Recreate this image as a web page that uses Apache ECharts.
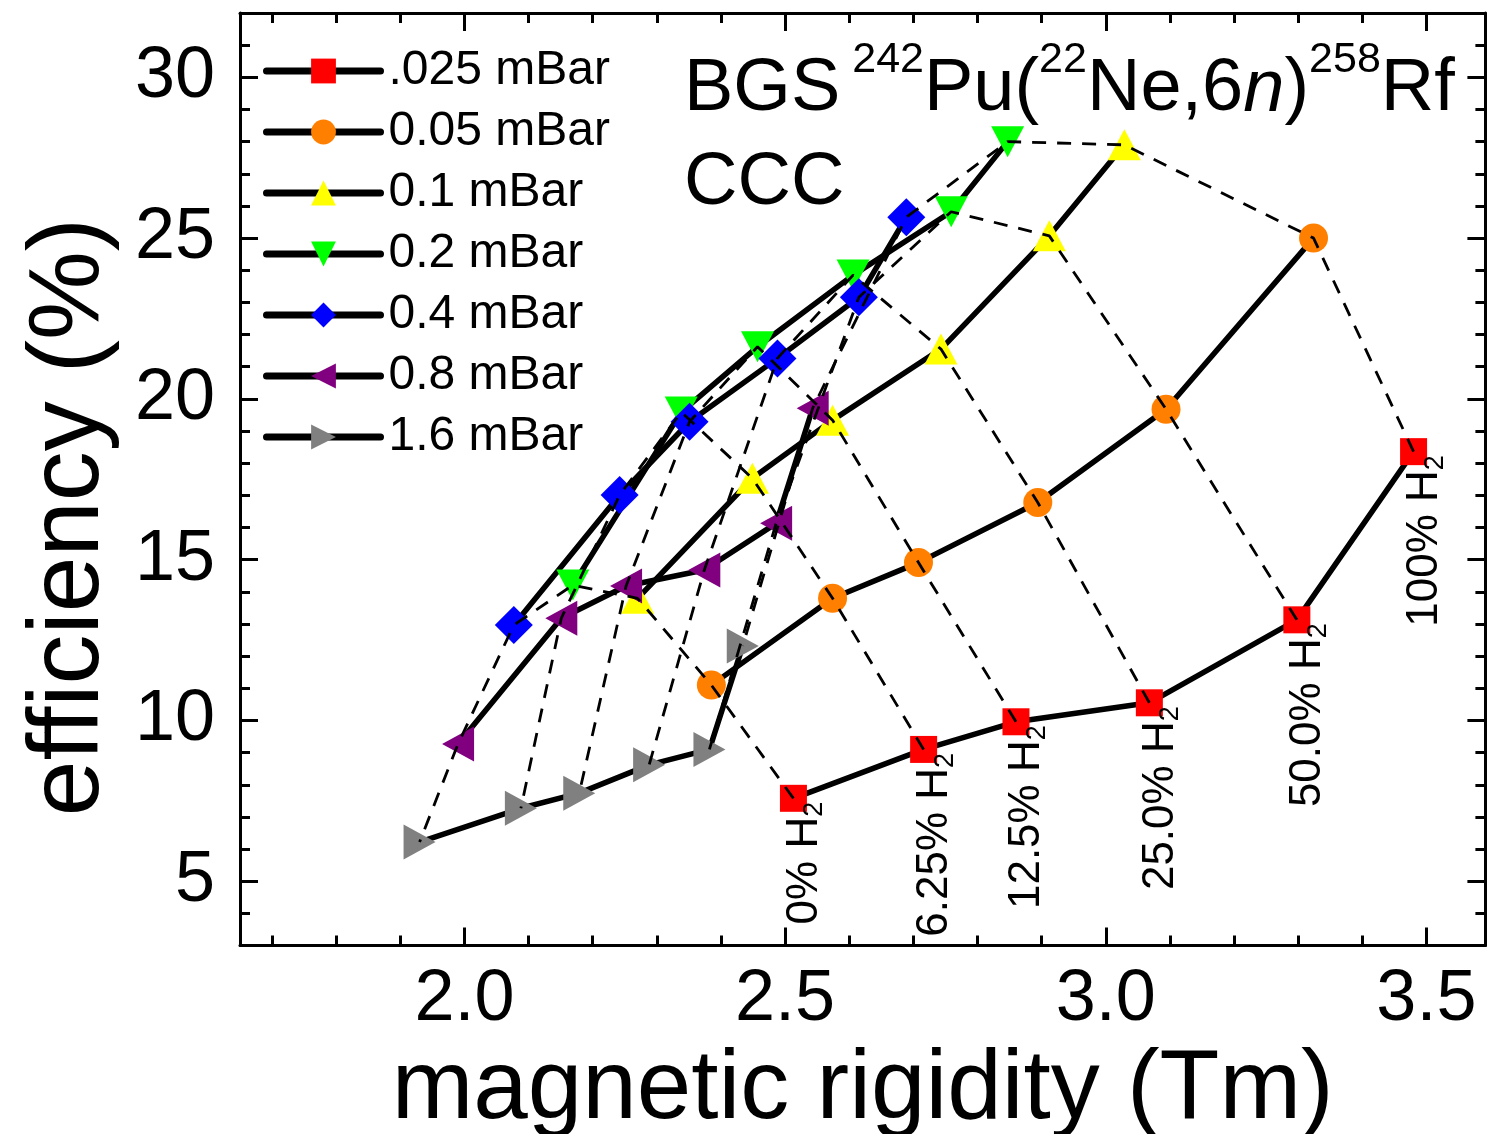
<!DOCTYPE html>
<html><head><meta charset="utf-8">
<script src="https://cdn.jsdelivr.net/npm/echarts@6/dist/echarts.min.js"></script>
<style>html,body{margin:0;padding:0;background:#fff}#c{width:1489px;height:1134px}</style>
</head><body><div id="c"></div>
<script>
// ---- data ----
const pressureNames = ['.025 mBar', '0.05 mBar', '0.1 mBar', '0.2 mBar', '0.4 mBar', '0.8 mBar', '1.6 mBar'];
const hydrogenFractions = ['0%', '6.25%', '12.5%', '25.0%', '50.0%', '100%'];

const rigidity025 = [2.513, 2.716, 2.860, 3.068, 3.298, 3.480];
const efficiency025 = [7.58, 9.10, 9.96, 10.55, 13.13, 18.36];
const rigidity05 = [2.385, 2.574, 2.708, 2.894, 3.094, 3.324];
const efficiency05 = [11.10, 13.80, 14.91, 16.78, 19.68, 25.00];
const rigidity1 = [2.270, 2.449, 2.574, 2.743, 2.912, 3.029];
const efficiency1 = [13.80, 17.53, 19.34, 21.55, 25.07, 27.90];
const rigidity2 = [2.169, 2.338, 2.457, 2.606, 2.759, 2.847];
const efficiency2 = [14.21, 19.59, 21.62, 23.85, 25.82, 28.00];
const rigidity4 = [2.077, 2.242, 2.351, 2.488, 2.615, 2.689];
const efficiency4 = [12.97, 17.01, 19.29, 21.26, 23.16, 25.65];
const rigidity8 = [1.990, 2.151, 2.252, 2.374, 2.486, 2.543];
const efficiency8 = [9.27, 13.18, 14.18, 14.68, 16.13, 19.71];
const rigidity16 = [1.930, 2.088, 2.179, 2.288, 2.382, 2.434];
const efficiency16 = [6.22, 7.27, 7.74, 8.62, 9.10, 12.32];

const xMajorTicks = [2.0, 2.5, 3.0, 3.5];
const xMinorTicks = [1.7, 1.8, 1.9, 2.1, 2.2, 2.3, 2.4, 2.6, 2.7, 2.8, 2.9, 3.1, 3.2, 3.3, 3.4];
const yMajorTicks = [5, 10, 15, 20, 25, 30];
const yMinorTicks = [4, 6, 7, 8, 9, 11, 12, 13, 14, 16, 17, 18, 19, 21, 22, 23, 24, 26, 27, 28, 29, 31];

// ---- styling ----
const FONT = '"Liberation Sans", Arial, sans-serif';
const rigidities = [rigidity025, rigidity05, rigidity1, rigidity2, rigidity4, rigidity8, rigidity16];
const efficiencies = [efficiency025, efficiency05, efficiency1, efficiency2, efficiency4, efficiency8, efficiency16];
const colors = ['#ff0000', '#ff8000', '#ffff00', '#00ff00', '#0000ff', '#800080', '#808080'];
const symbols = ['rect', 'circle', 'triangle', 'triangle', 'diamond', 'triangle', 'triangle'];
const rotations = [0, 0, 0, 180, 0, 90, -90];
const sizes = [[27, 27], [29, 29], [33, 31], [33, 31], [38, 38], [35, 32], [35, 32]];

const X_MIN = 1.65, X_MAX = 3.592, Y_MIN = 3, Y_MAX = 32;

function axis(dim, position, ticks, len, major) {
  const isX = dim === 'x';
  return {
    type: 'value', position: position,
    min: isX ? X_MIN : Y_MIN, max: isX ? X_MAX : Y_MAX,
    axisLine: { show: major, onZero: false, lineStyle: { color: '#000', width: 3 } },
    splitLine: { show: false },
    axisTick: { show: true, inside: true, length: len, customValues: ticks, lineStyle: { color: '#000', width: 3 } },
    axisLabel: major && (position === 'bottom' || position === 'left') ? {
      show: true, customValues: ticks, fontFamily: FONT, fontSize: 72, color: '#000',
      margin: isX ? 19 : 25,
      padding: isX ? 0 : [0, 0, 10, 0],
      formatter: v => isX ? v.toFixed(1) : String(v)
    } : { show: false },
    name: '',
    z: 4
  };
}

const xAxes = [
  Object.assign(axis('x', 'bottom', xMajorTicks, 18, true), {
    name: 'magnetic rigidity (Tm)', nameLocation: 'middle', nameGap: 86,
    nameTextStyle: { fontFamily: FONT, fontSize: 98, color: '#000' }
  }),
  axis('x', 'bottom', xMinorTicks, 10, false),
  axis('x', 'top', xMajorTicks, 18, true),
  axis('x', 'top', xMinorTicks, 10, false)
];
const yAxes = [
  axis('y', 'left', yMajorTicks, 18, true),
  axis('y', 'left', yMinorTicks, 10, false),
  axis('y', 'right', yMajorTicks, 18, true),
  axis('y', 'right', yMinorTicks, 10, false)
];

const series = [];
pressureNames.forEach((name, k) => {
  const s = {
    name: name, type: 'line', xAxisIndex: 0, yAxisIndex: 0,
    data: rigidities[k].map((x, i) => [x, efficiencies[k][i]]),
    symbol: symbols[k], symbolSize: sizes[k], symbolRotate: rotations[k],
    showAllSymbol: true,
    lineStyle: { color: '#000', width: 5.5 },
    itemStyle: { color: colors[k], borderWidth: 0 },
    emphasis: { disabled: true },
    z: 2
  };
  if (k === 0) {
    s.label = {
      show: true, position: 'bottom', rotate: 90, align: 'right', verticalAlign: 'middle',
      distance: -10, offset: [0, 12],
      formatter: p => '{m|' + hydrogenFractions[p.dataIndex] + ' H}{s|2}',
      rich: {
        m: { fontFamily: FONT, fontSize: 44, lineHeight: 46, color: '#000', verticalAlign: 'top' },
        s: { fontFamily: FONT, fontSize: 27, lineHeight: 27, color: '#000', verticalAlign: 'bottom', padding: [33, 0, 0, 0] }
      }
    };
  }
  series.push(s);
});
// dashed iso-H2 lines connect the same H2 fraction across pressures
hydrogenFractions.forEach((h, i) => {
  series.push({
    name: h + ' H2', type: 'line', xAxisIndex: 0, yAxisIndex: 0,
    data: rigidities.map((r, k) => [r[i], efficiencies[k][i]]),
    symbol: 'none', silent: true,
    lineStyle: { color: '#000', width: 2.8, type: [14, 11] },
    emphasis: { disabled: true },
    z: 3
  });
});

const option = {
  animation: false,
  backgroundColor: '#fff',
  grid: { left: 240, right: 3.6, top: 13, bottom: 188.4, containLabel: false, outerBoundsMode: 'none' },
  xAxis: xAxes,
  yAxis: yAxes,
  legend: {
    data: pressureNames, orient: 'vertical', left: 263, top: 46, padding: 0,
    itemWidth: 114, itemHeight: 31, itemGap: 11, selectedMode: false,
    lineStyle: { width: 7, cap: 'round', color: '#000' },
    textStyle: { fontFamily: FONT, fontSize: 48, lineHeight: 50, color: '#000', padding: [0, 0, 0, 3] }
  },
  graphic: [
    {
      type: 'text', left: 684, top: 39, z: 10,
      style: {
        text: '{n|BGS}{p| 242}{n|Pu(}{p|22}{n|Ne,6}{i|n}{n|)}{p|258}{n|Rf}',
        fill: '#000',
        rich: {
          n: { fontFamily: FONT, fontSize: 74, lineHeight: 88, verticalAlign: 'bottom', fill: '#000' },
          i: { fontFamily: FONT, fontSize: 74, fontStyle: 'italic', lineHeight: 88, verticalAlign: 'bottom', fill: '#000' },
          p: { fontFamily: FONT, fontSize: 43, lineHeight: 43, verticalAlign: 'top', fill: '#000' }
        }
      }
    },
    {
      type: 'text', left: 684, top: 147, z: 10,
      style: { text: 'CCC', font: '74px ' + FONT, fill: '#000' }
    },
    {
      type: 'text', x: 70, y: 517, rotation: Math.PI / 2, z: 10,
      style: { text: 'efficiency (%)', font: '100px ' + FONT, fill: '#000', textAlign: 'center', textVerticalAlign: 'middle' }
    }
  ],
  series: series
};

const chart = echarts.init(document.getElementById('c'), null, { renderer: 'canvas' });
chart.setOption(option);
</script>
</body></html>
